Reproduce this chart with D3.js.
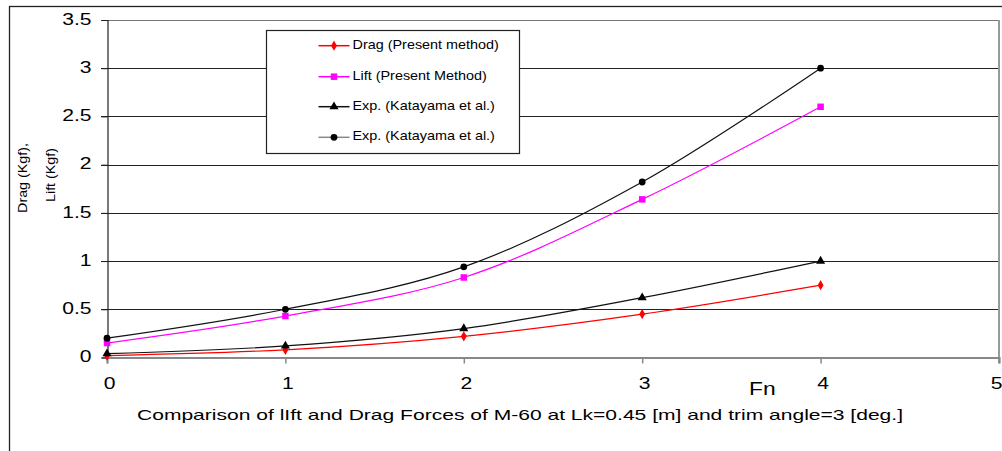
<!DOCTYPE html>
<html><head><meta charset="utf-8">
<script src="https://cdn.jsdelivr.net/npm/d3@7"></script>
<style>body{margin:0;background:#fff;} text{font-family:"Liberation Sans",Arial,sans-serif;fill:#000;}</style>
</head><body><svg id="c" width="1002" height="451"></svg>
<script>
const fn = [0, 1, 2, 3, 4];
const dragPresent = [0.02, 0.08, 0.22, 0.45, 0.75];
const liftPresent = [0.15, 0.43, 0.83, 1.64, 2.6];
const expDrag = [0.04, 0.12, 0.30, 0.62, 1.0];
const expLift = [0.2, 0.5, 0.94, 1.82, 3.0];
const xTicks = [0, 1, 2, 3, 4, 5];
const yTicks = [0, 0.5, 1, 1.5, 2, 2.5, 3, 3.5];
const seriesNames = ["Drag (Present method)", "Lift (Present Method)", "Exp. (Katayama et al.)", "Exp. (Katayama et al.)"];
const xTitle = "Fn";
const chartTitle = "Comparison of lIft and Drag Forces of M-60 at Lk=0.45 [m] and trim angle=3 [deg.]";
const yTitle = ["Drag (Kgf),", "Lift (Kgf)"];

const svg = d3.select("#c");
const x = d3.scaleLinear().domain([0, 5]).range([107, 999]);
const y = d3.scaleLinear().domain([0, 3.5]).range([357.5, 20]);
const SX = 1.32;

// outer border
svg.append("rect").attr("x", 9.5).attr("y", 6.5).attr("width", 1100).attr("height", 500)
  .attr("fill", "none").attr("stroke", "#222").attr("stroke-width", 1.3);

// gridlines
svg.append("g").selectAll("line").data(yTicks.filter(d => d > 0)).join("line")
  .attr("x1", 101).attr("x2", 999)
  .attr("y1", d => Math.round(y(d)) + 0.5).attr("y2", d => Math.round(y(d)) + 0.5)
  .attr("stroke", d => d === 3.5 ? "#777" : "#222").attr("stroke-width", 1.2);

// right border of plot
svg.append("line").attr("x1", 999).attr("x2", 999).attr("y1", y(3.5)).attr("y2", 363)
  .attr("stroke", "#999").attr("stroke-width", 2);

// y axis
const yAxis = d3.axisLeft(y).tickValues(yTicks).tickSize(6).tickFormat(d3.format("~g"));
const gy = svg.append("g").attr("transform", "translate(107.5,0)").call(yAxis);
gy.select(".domain").attr("stroke", "#222").attr("stroke-width", 1.2);
gy.selectAll(".tick line").attr("stroke", "#222");
gy.selectAll(".tick text").attr("font-size", 16).attr("x", 0).attr("dy", null)
  .attr("dominant-baseline", "middle")
  .attr("text-anchor", "end")
  .attr("transform", `translate(-16,0) scale(${SX},1)`)
  .style("font-family", "Liberation Sans, Arial, sans-serif");

// x axis
const xAxis = d3.axisBottom(x).tickValues(xTicks).tickSize(6).tickFormat(d3.format("d"));
const gx = svg.append("g").attr("transform", "translate(0,357.5)").call(xAxis);
gx.select(".domain").attr("stroke", "#888").attr("stroke-width", 2);
gx.selectAll(".tick line").attr("stroke", "#888").attr("stroke-width", 1.5);
gx.selectAll(".tick text").attr("font-size", 16).attr("y", 0).attr("dy", null)
  .attr("transform", (d) => `translate(${d === 5 ? -3 : 2},31) scale(${SX},1)`)
  .style("font-family", "Liberation Sans, Arial, sans-serif");

// series
const line = d3.line().x((d, i) => x(fn[i])).y(d => y(d)).curve(d3.curveCatmullRom.alpha(0.5));
const series = [
  {vals: dragPresent, color: "#ff0000", lineColor: "#ff0000", legColor: "#ff0000", sym: d3.symbolDiamond, size: 30},
  {vals: liftPresent, color: "#ff00ff", lineColor: "#ff00ff", legColor: "#ff00ff", sym: d3.symbolSquare, size: 42},
  {vals: expDrag, color: "#000", lineColor: "#111", legColor: "#111", sym: d3.symbolTriangle, size: 36},
  {vals: expLift, color: "#000", lineColor: "#111", legColor: "#888", sym: d3.symbolCircle, size: 36}
];
series.forEach(s => {
  svg.append("path").datum(s.vals).attr("d", line).attr("fill", "none")
    .attr("stroke", s.lineColor).attr("stroke-width", 1.2);
});
series.forEach(s => {
  svg.append("g").selectAll("path").data(s.vals).join("path")
    .attr("d", d3.symbol().type(s.sym).size(s.size))
    .attr("transform", (d, i) => `translate(${x(fn[i])},${y(d)})`)
    .attr("fill", s.color);
});

// legend
svg.append("rect").attr("x", 266.5).attr("y", 30.5).attr("width", 253).attr("height", 123)
  .attr("fill", "#fff").attr("stroke", "#222").attr("stroke-width", 1.2);
const legY = [45.7, 76.7, 106.7, 137.3];
series.forEach((s, i) => {
  const g = svg.append("g").attr("transform", `translate(0,${legY[i]})`);
  g.append("line").attr("x1", 318.5).attr("x2", 349.5).attr("y1", 0).attr("y2", 0)
    .attr("stroke", s.legColor).attr("stroke-width", 1.5);
  g.append("path").attr("d", d3.symbol().type(s.sym).size(s.size)).attr("transform", "translate(334,0)")
    .attr("fill", s.color);
  g.append("text").attr("x", 0).attr("y", 0).attr("dominant-baseline", "middle")
    .attr("font-size", 12).attr("transform", `translate(352.5,0) scale(1.2,1)`).text(seriesNames[i]);
});

// axis titles
svg.append("text").attr("font-size", 19).attr("transform", `translate(749,395) scale(1.2,1)`).text(xTitle);
svg.append("text").attr("font-size", 15).attr("x", 520).attr("y", 420).attr("text-anchor", "middle")
  .attr("textLength", 766).attr("lengthAdjust", "spacingAndGlyphs").text(chartTitle);
yTitle.forEach((t, i) => {
  svg.append("text").attr("font-size", 13).attr("text-anchor", "middle")
    .attr("transform", `translate(${[26.5, 54.5][i]},${[178, 175][i]}) rotate(-90) scale(1.1,1)`).text(t);
});
</script></body></html>
